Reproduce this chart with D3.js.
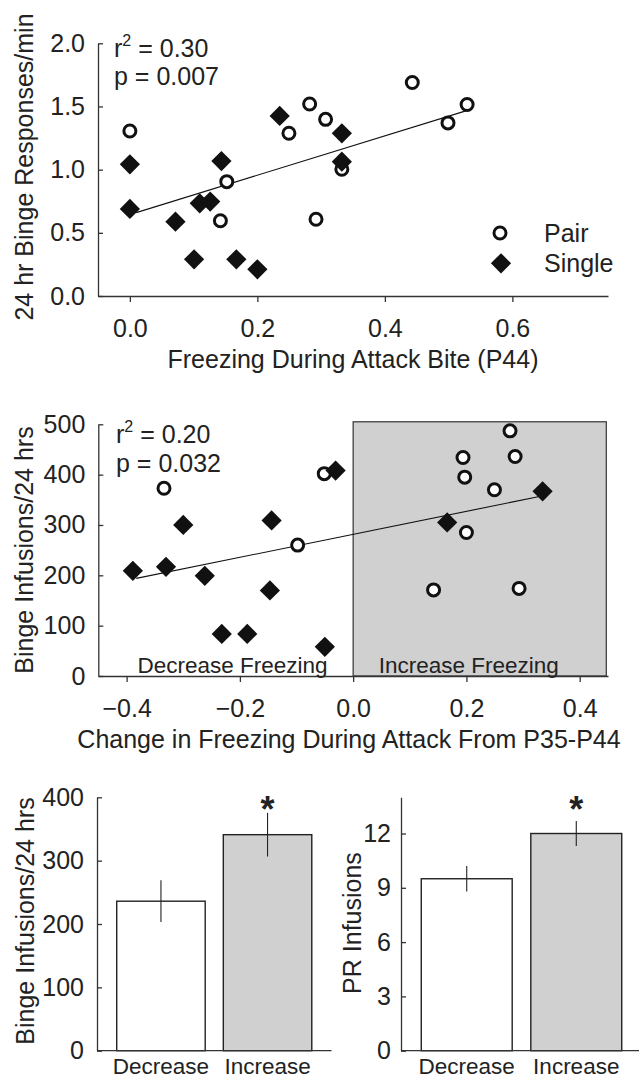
<!DOCTYPE html>
<html>
<head>
<meta charset="utf-8">
<script src="https://d3js.org/d3.v7.min.js"></script>
<style>
  body { margin: 0; background: #fff; }
  text { font-family: "Liberation Sans", Arial, sans-serif; fill: #222; }
</style>
</head>
<body>
<div class="viz"></div>
<script>
// panel A: binge responses vs freezing (P44)
var pairX1 = [0, 0.142, 0.152, 0.2495, 0.282, 0.307, 0.292, 0.3325, 0.443, 0.499, 0.529];
var pairY1 = [1.306, 0.596, 0.905, 1.288, 1.52, 1.398, 0.607, 1.003, 1.69, 1.37, 1.516];
var singleX1 = [0, 0, 0.0715, 0.1096, 0.126, 0.1436, 0.1007, 0.167, 0.2, 0.235, 0.3325, 0.3325];
var singleY1 = [1.042, 0.689, 0.588, 0.734, 0.747, 1.068, 0.29, 0.29, 0.211, 1.425, 1.288, 1.063];
var fitX1 = [0.01, 0.527];
var fitY1 = [0.66, 1.465];
var xTicks1 = [0, 0.2, 0.4, 0.6];
var yTicks1 = [0, 0.5, 1.0, 1.5, 2.0];

// panel B: binge infusions vs change in freezing
var pairX2 = [-0.334, -0.098, -0.051, 0.142, 0.194, 0.197, 0.2, 0.2495, 0.277, 0.286, 0.293];
var pairY2 = [373, 260, 402, 171, 434, 395, 285, 370, 487, 436, 174];
var singleX2 = [-0.389, -0.3305, -0.3, -0.262, -0.232, -0.187, -0.144, -0.147, -0.05, -0.031, 0.166, 0.3345];
var singleY2 = [209, 217, 300, 199, 83.5, 83.5, 309, 170, 58, 408, 305, 367];
var fitX2 = [-0.383, 0.331];
var fitY2 = [194, 357];
var shadeX2 = [0, 0.447];
var shadeTop2 = 505;
var xTicks2 = [-0.4, -0.2, 0, 0.2, 0.4];
var yTicks2 = [0, 100, 200, 300, 400, 500];

// panels C and D: group means
var groups = ["Decrease", "Increase"];
var bingeMean = [236, 341];
var bingeSE = [33, 34.5];
var prMean = [9.5, 12.0];
var prSE = [0.7, 0.69];
var sigMark = ["", "*"];
var yTicks3 = [0, 100, 200, 300, 400];
var yTicks4 = [0, 3, 6, 9, 12];

var W = 639, H = 1079;
var ink = "#111", axisCol = "#333", grey = "#d0d0d0";
var fs = 25;

var svg = d3.select("div.viz").append("svg")
    .attr("width", W).attr("height", H);

function styleAxis(g) {
    g.selectAll("path, line").attr("stroke", axisCol).attr("stroke-width", 1.3);
    g.selectAll("text").attr("font-size", fs)
        .attr("font-family", "Liberation Sans, Arial, sans-serif").attr("fill", "#222");
}

function yTitle(txt, x, y) {
    svg.append("text")
        .attr("transform", "translate(" + x + "," + y + ") rotate(-90)")
        .attr("text-anchor", "middle")
        .attr("font-size", fs)
        .text(txt);
}

function stats(g, x, y, r2, p) {
    var t = g.append("text").attr("x", x).attr("y", y).attr("font-size", fs);
    t.append("tspan").text("r");
    t.append("tspan").attr("dy", -11).attr("font-size", 16).text("2");
    t.append("tspan").attr("dy", 11).text(" = " + r2);
    g.append("text").attr("x", x).attr("y", y + 28.5).attr("font-size", fs).text("p = " + p);
}

var diamond = d3.symbol().type(d3.symbolSquare).size(205);

function scatter(g, x, y, px, py, sx, sy, fx, fy) {
    g.append("line")
        .attr("x1", x(fx[0])).attr("y1", y(fy[0]))
        .attr("x2", x(fx[1])).attr("y2", y(fy[1]))
        .attr("stroke", ink).attr("stroke-width", 1.1);
    g.selectAll("circle.pair").data(d3.range(px.length)).enter()
        .append("circle").attr("class", "pair")
        .attr("cx", function(i) { return x(px[i]); })
        .attr("cy", function(i) { return y(py[i]); })
        .attr("r", 6)
        .attr("fill", "#fff").attr("stroke", ink).attr("stroke-width", 3);
    g.selectAll("path.single").data(d3.range(sx.length)).enter()
        .append("path").attr("class", "single")
        .attr("d", diamond)
        .attr("transform", function(i) {
            return "translate(" + x(sx[i]) + "," + y(sy[i]) + ") rotate(45)";
        })
        .attr("fill", ink);
}

// ---------- panel A ----------
var x1 = d3.scaleLinear().domain([-0.05, 0.75]).range([98, 608]);
var y1 = d3.scaleLinear().domain([0, 2]).range([296, 43.3]);
var gA = svg.append("g");

gA.append("g").attr("transform", "translate(0," + y1(0) + ")")
    .call(d3.axisBottom(x1).tickValues(xTicks1).tickFormat(d3.format(".1f"))
        .tickSizeInner(6).tickSizeOuter(0).tickPadding(17))
    .call(styleAxis);
gA.append("g").attr("transform", "translate(" + x1.range()[0] + ",0)")
    .call(d3.axisLeft(y1).tickValues(yTicks1).tickFormat(d3.format(".1f"))
        .tickSizeInner(-5).tickSizeOuter(0).tickPadding(13))
    .call(styleAxis);

scatter(gA, x1, y1, pairX1, pairY1, singleX1, singleY1, fitX1, fitY1);
stats(gA, 114, 56.7, "0.30", "0.007");

// legend
gA.append("circle").attr("cx", 500).attr("cy", 233).attr("r", 6)
    .attr("fill", "#fff").attr("stroke", ink).attr("stroke-width", 3);
gA.append("path").attr("d", diamond)
    .attr("transform", "translate(501,263.3) rotate(45)").attr("fill", ink);
gA.append("text").attr("x", 544).attr("y", 241.7).attr("font-size", fs).text("Pair");
gA.append("text").attr("x", 544).attr("y", 271.7).attr("font-size", fs).text("Single");

gA.append("text").attr("x", 353).attr("y", 368.3).attr("text-anchor", "middle")
    .attr("font-size", fs).text("Freezing During Attack Bite (P44)");
yTitle("24 hr Binge Responses/min", 33, 167);

// ---------- panel B ----------
var x2 = d3.scaleLinear().domain([-0.45, 0.45]).range([98.3, 608]);
var y2 = d3.scaleLinear().domain([0, 500]).range([676, 424.3]);
var gB = svg.append("g");

gB.append("rect")
    .attr("x", x2(shadeX2[0])).attr("y", y2(shadeTop2))
    .attr("width", x2(shadeX2[1]) - x2(shadeX2[0]))
    .attr("height", y2(0) - y2(shadeTop2))
    .attr("fill", grey).attr("stroke", axisCol).attr("stroke-width", 1.2);

gB.append("g").attr("transform", "translate(0," + y2(0) + ")")
    .call(d3.axisBottom(x2).tickValues(xTicks2).tickFormat(d3.format(".1f"))
        .tickSizeInner(6).tickSizeOuter(0).tickPadding(17))
    .call(styleAxis);
gB.append("g").attr("transform", "translate(" + x2.range()[0] + ",0)")
    .call(d3.axisLeft(y2).tickValues(yTicks2)
        .tickSizeInner(-5).tickSizeOuter(0).tickPadding(13))
    .call(styleAxis);

gB.append("text").attr("x", x2(-0.213)).attr("y", 673).attr("text-anchor", "middle")
    .attr("font-size", 22.5).text("Decrease Freezing");
gB.append("text").attr("x", x2(0.204)).attr("y", 673).attr("text-anchor", "middle")
    .attr("font-size", 22.5).text("Increase Freezing");

scatter(gB, x2, y2, pairX2, pairY2, singleX2, singleY2, fitX2, fitY2);
stats(gB, 116, 443.3, "0.20", "0.032");

gB.append("text").attr("x", 349).attr("y", 748).attr("text-anchor", "middle")
    .attr("font-size", fs).text("Change in Freezing During Attack From P35-P44");
yTitle("Binge Infusions/24 hrs", 33, 550);

// ---------- bar panels ----------
function barPanel(range, yDomain, ticks, means, ses, pad, axisEnd) {
    var g = svg.append("g");
    var x = d3.scaleBand().domain(groups).range(range)
        .paddingInner(0.17).paddingOuter(0.185);
    var y = d3.scaleLinear().domain(yDomain).range([1050.7, 797.3]);

    g.selectAll("rect").data(groups).enter().append("rect")
        .attr("x", function(d) { return x(d); })
        .attr("y", function(d, i) { return y(means[i]); })
        .attr("width", x.bandwidth())
        .attr("height", function(d, i) { return y(0) - y(means[i]); })
        .attr("fill", function(d, i) { return i === 0 ? "#fff" : grey; })
        .attr("stroke", "#222").attr("stroke-width", 1.4);

    g.selectAll("line.err").data(groups).enter().append("line").attr("class", "err")
        .attr("x1", function(d) { return x(d) + x.bandwidth() / 2; })
        .attr("x2", function(d) { return x(d) + x.bandwidth() / 2; })
        .attr("y1", function(d, i) { return y(means[i] + ses[i]); })
        .attr("y2", function(d, i) { return y(means[i] - ses[i]); })
        .attr("stroke", "#222").attr("stroke-width", 1.1);

    g.selectAll("text.sig").data(groups).enter().append("text").attr("class", "sig")
        .attr("x", function(d) { return x(d) + x.bandwidth() / 2; })
        .attr("y", y(yDomain[1]) + 25)
        .attr("text-anchor", "middle")
        .attr("font-size", 36).attr("font-weight", "bold")
        .text(function(d, i) { return sigMark[i]; });

    var xa = g.append("g").attr("transform", "translate(0," + y(0) + ")")
        .call(d3.axisBottom(x).tickSize(0).tickPadding(7.5))
        .call(styleAxis);
    xa.selectAll("text").attr("font-size", 22.5);
    xa.select("path").attr("d", "M" + range[0] + ",0H" + axisEnd);

    g.append("g").attr("transform", "translate(" + range[0] + ",0)")
        .call(d3.axisLeft(y).tickValues(ticks)
            .tickSizeInner(-5).tickSizeOuter(0).tickPadding(pad))
        .call(styleAxis);
}

barPanel([97, 331.5], [0, 400], yTicks3, bingeMean, bingeSE, 13, 331.5);
barPanel([401, 642], [0, 14], yTicks4, prMean, prSE, 10, 639);

yTitle("Binge Infusions/24 hrs", 34, 921);
yTitle("PR Infusions", 361, 923);
</script>
</body>
</html>
